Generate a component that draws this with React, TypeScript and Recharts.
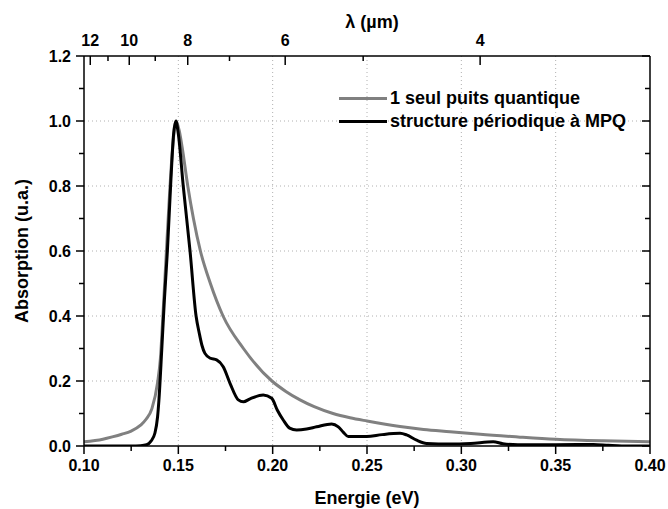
import React from 'react';
import { LineChart, Line, XAxis, YAxis, CartesianGrid, Legend } from 'recharts';

// Single quantum well (gray)
const grayE = [0.100, 0.110, 0.115, 0.120, 0.125, 0.130, 0.133, 0.136, 0.139, 0.1405, 0.142, 0.1435, 0.145, 0.147, 0.1488, 0.1505, 0.152, 0.155, 0.158, 0.1617, 0.167, 0.1737, 0.1845, 0.1996, 0.207, 0.2145, 0.222, 0.232, 0.241, 0.250, 0.2675, 0.280, 0.294, 0.310, 0.330, 0.350, 0.375, 0.400];
const grayA = [0.013, 0.021, 0.028, 0.036, 0.046, 0.064, 0.083, 0.115, 0.195, 0.27, 0.42, 0.58, 0.74, 0.92, 1.0, 0.97, 0.92, 0.80, 0.70, 0.60, 0.50, 0.40, 0.30, 0.20, 0.168, 0.142, 0.121, 0.10, 0.087, 0.077, 0.060, 0.051, 0.044, 0.036, 0.028, 0.021, 0.016, 0.013];

// Periodic MQW structure (black)
const blackE = [0.100, 0.125, 0.130, 0.1332, 0.1355, 0.1376, 0.139, 0.1397, 0.1412, 0.1426, 0.1442, 0.1459, 0.1475, 0.1487, 0.150, 0.1526, 0.1562, 0.1594, 0.1611, 0.1625, 0.1641, 0.167, 0.1703, 0.1738, 0.1774, 0.1818, 0.1845, 0.188, 0.195, 0.1995, 0.2025, 0.2056, 0.209, 0.2127, 0.218, 0.2233, 0.2313, 0.2348, 0.2375, 0.2401, 0.2498, 0.258, 0.2675, 0.271, 0.2763, 0.2816, 0.294, 0.305, 0.3169, 0.322, 0.330, 0.350, 0.370, 0.378, 0.385, 0.400];
const blackA = [0, 0, 0.001, 0.004, 0.015, 0.04, 0.09, 0.14, 0.295, 0.449, 0.6, 0.8, 0.96, 1.0, 0.96, 0.8, 0.6, 0.4, 0.347, 0.31, 0.285, 0.27, 0.265, 0.244, 0.193, 0.142, 0.136, 0.145, 0.157, 0.147, 0.11, 0.08, 0.055, 0.049, 0.052, 0.059, 0.068, 0.059, 0.042, 0.029, 0.029, 0.035, 0.039, 0.034, 0.018, 0.008, 0.006, 0.008, 0.013, 0.007, 0.004, 0.004, 0.005, 0.002, 0, 0];

const energyTicks = [0.10, 0.125, 0.15, 0.175, 0.20, 0.225, 0.25, 0.275, 0.30, 0.325, 0.35, 0.375, 0.40];
const energyMajor = [0.10, 0.15, 0.20, 0.25, 0.30, 0.35, 0.40];
const absTicks = [0, 0.1, 0.2, 0.3, 0.4, 0.5, 0.6, 0.7, 0.8, 0.9, 1.0, 1.1, 1.2];
const absMajor = [0, 0.2, 0.4, 0.6, 0.8, 1.0, 1.2];
const absGrid = [0.2, 0.4, 0.6, 0.8, 1.0];
const energyGrid = [0.15, 0.20, 0.25, 0.30, 0.35];
const lambdaTicks = [12, 11, 10, 9, 8, 7, 6, 5, 4];
const lambdaMajor = [12, 10, 8, 6, 4];
const HC = 1.23984; // eV·µm

const grayData = grayE.map((e, i) => ({ e, a: grayA[i] }));
const blackData = blackE.map((e, i) => ({ e, a: blackA[i] }));
const lambdaEnergies = lambdaTicks.map((l) => HC / l);

const FONT = '"Liberation Sans", Arial, sans-serif';
const isClose = (a: number, list: number[]) => list.some((v) => Math.abs(v - a) < 1e-6);

const BottomTick = (p: any) => {
  const v = p.payload.value;
  const major = isClose(v, energyMajor);
  return (
    <g>
      <line x1={p.x} y1={p.y} x2={p.x} y2={p.y + (major ? 8 : 5)} stroke="#000" strokeWidth={1.5} />
      {major && (
        <text x={p.x} y={p.y + 25} textAnchor="middle" fontFamily={FONT} fontWeight="bold" fontSize={16} fill="#000">
          {v.toFixed(2)}
        </text>
      )}
    </g>
  );
};

const TopTick = (p: any) => {
  const e = p.payload.value;
  const lam = Math.round(HC / e);
  const major = lambdaMajor.includes(lam);
  return (
    <g>
      <line x1={p.x} y1={p.y} x2={p.x} y2={p.y + (major ? 9 : 5)} stroke="#000" strokeWidth={1.5} />
      {major && (
        <text x={p.x} y={p.y - 10} textAnchor="middle" fontFamily={FONT} fontWeight="bold" fontSize={16} fill="#000">
          {String(lam)}
        </text>
      )}
    </g>
  );
};

const LeftTick = (p: any) => {
  const v = p.payload.value;
  const major = isClose(v, absMajor);
  return (
    <g>
      <line x1={p.x - (major ? 8 : 5)} y1={p.y} x2={p.x} y2={p.y} stroke="#000" strokeWidth={1.5} />
      {major && (
        <text x={p.x - 13} y={p.y + 6} textAnchor="end" fontFamily={FONT} fontWeight="bold" fontSize={16} fill="#000">
          {v.toFixed(1)}
        </text>
      )}
    </g>
  );
};

const RightTick = (p: any) => {
  const v = p.payload.value;
  const major = isClose(v, absMajor);
  return <line x1={p.x - (major ? 8 : 5)} y1={p.y} x2={p.x} y2={p.y} stroke="#000" strokeWidth={1.5} />;
};

const LegendContent = () => (
  <div style={{ fontFamily: FONT, fontWeight: 'bold', fontSize: 18, color: '#000', lineHeight: '23px' }}>
    {[
      { name: '1 seul puits quantique', color: '#808080' },
      { name: 'structure périodique à MPQ', color: '#000000' },
    ].map((it) => (
      <div key={it.name} style={{ display: 'flex', alignItems: 'center', whiteSpace: 'nowrap' }}>
        <span style={{ display: 'inline-block', width: 48, height: 3, background: it.color, marginRight: 3 }} />
        <span>{it.name}</span>
      </div>
    ))}
  </div>
);

export default function App() {
  return (
    <div style={{ position: 'absolute', left: 0, top: 0, background: '#fff' }}>
      <LineChart width={668} height={509} margin={{ top: 0, right: 0, bottom: 0, left: 0 }}>
        <CartesianGrid
          xAxisId="bottom"
          yAxisId="left"
          stroke="#b0b0b0"
          strokeDasharray="1 3"
          horizontalValues={absGrid}
          verticalValues={energyGrid}
        />
        <XAxis
          xAxisId="bottom"
          dataKey="e"
          type="number"
          domain={[0.1, 0.4]}
          ticks={energyTicks}
          allowDataOverflow
          height={63}
          tickSize={0}
          tickMargin={0}
          tickLine={false}
          interval={0}
          axisLine={{ stroke: '#000', strokeWidth: 1.5 }}
          tick={<BottomTick />}
          label={{ value: 'Energie (eV)', position: 'insideBottom', offset: 5, style: { fontFamily: FONT, fontWeight: 'bold', fontSize: 18, fill: '#000' } }}
        />
        <XAxis
          xAxisId="top"
          orientation="top"
          dataKey="e"
          type="number"
          domain={[0.1, 0.4]}
          ticks={lambdaEnergies}
          allowDataOverflow
          height={56}
          tickSize={0}
          tickMargin={0}
          tickLine={false}
          interval={0}
          axisLine={{ stroke: '#000', strokeWidth: 1.5 }}
          tick={<TopTick />}
          label={{ value: 'λ (µm)', position: 'insideTop', offset: 15, dx: 5, style: { fontFamily: FONT, fontWeight: 'bold', fontSize: 18, fill: '#000' } }}
        />
        <YAxis
          yAxisId="left"
          type="number"
          domain={[0, 1.2]}
          ticks={absTicks}
          allowDataOverflow
          width={84}
          tickSize={0}
          tickMargin={0}
          tickLine={false}
          interval={0}
          axisLine={{ stroke: '#000', strokeWidth: 1.5 }}
          tick={<LeftTick />}
          label={{ value: 'Absorption (u.a.)', angle: -90, position: 'insideLeft', offset: 22, style: { fontFamily: FONT, fontWeight: 'bold', fontSize: 18, fill: '#000', textAnchor: 'middle' } }}
        />
        <YAxis
          yAxisId="right"
          orientation="right"
          type="number"
          domain={[0, 1.2]}
          ticks={absTicks}
          allowDataOverflow
          width={18}
          tickSize={0}
          tickMargin={0}
          tickLine={false}
          interval={0}
          axisLine={{ stroke: '#000', strokeWidth: 1.5 }}
          tick={<RightTick />}
        />
        <Legend
          layout="horizontal"
          verticalAlign="middle"
          align="center"
          content={<LegendContent />}
          wrapperStyle={{ left: 339, top: 87, width: 320, height: 46 }}
        />
        <Line
          xAxisId="bottom"
          yAxisId="left"
          data={grayData}
          dataKey="a"
          type="monotone"
          stroke="#808080"
          strokeWidth={3}
          dot={false}
          activeDot={false}
          isAnimationActive={false}
          name="1 seul puits quantique"
        />
        <Line
          xAxisId="bottom"
          yAxisId="left"
          data={blackData}
          dataKey="a"
          type="monotone"
          stroke="#000000"
          strokeWidth={3}
          dot={false}
          activeDot={false}
          isAnimationActive={false}
          name="structure périodique à MPQ"
        />
      </LineChart>
    </div>
  );
}
